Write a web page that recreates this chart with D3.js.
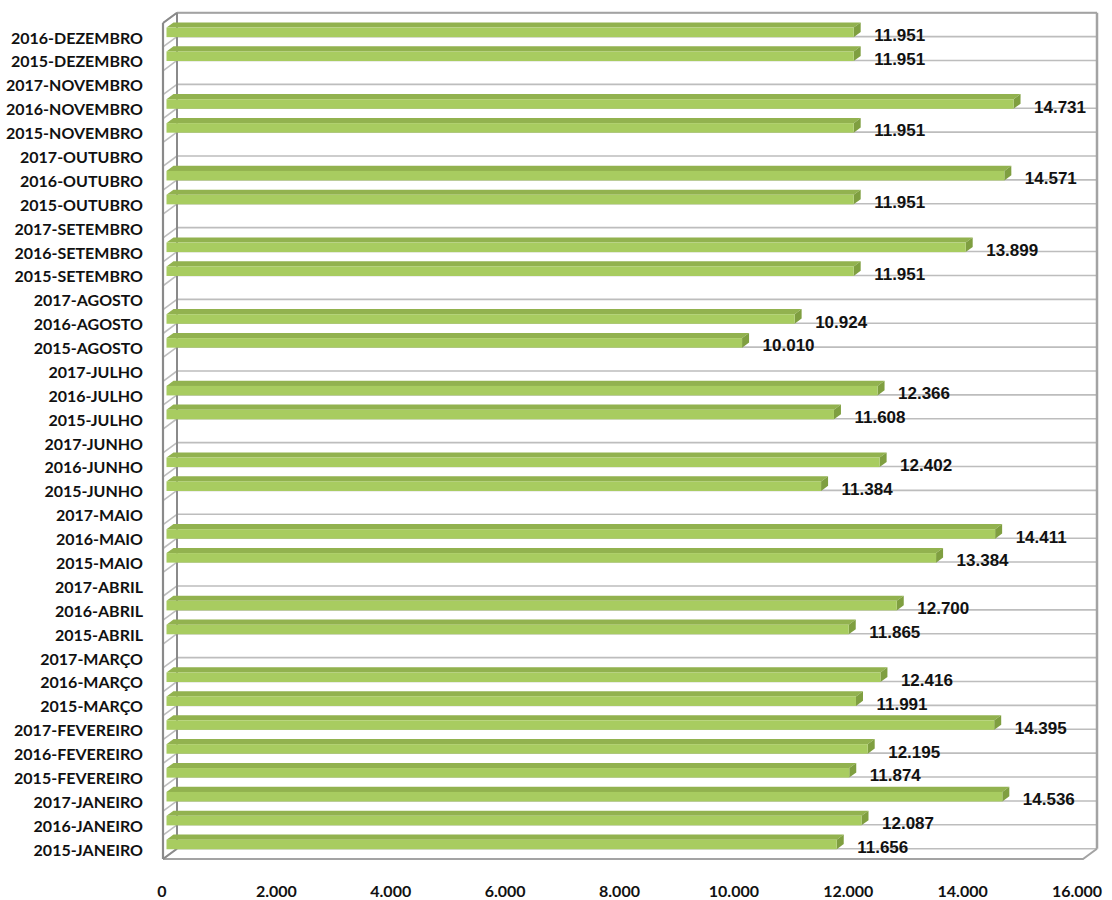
<!DOCTYPE html>
<html>
<head>
<meta charset="utf-8">
<script src="https://cdn.jsdelivr.net/npm/d3@7"></script>
<style>
  html, body { margin: 0; padding: 0; background: #ffffff; }
  svg { display: block; }
</style>
</head>
<body>
<svg id="chart" width="1112" height="900"></svg>
<script>
// ---- data (top to bottom as displayed) ----
const categories = [
  "2016-DEZEMBRO","2015-DEZEMBRO",
  "2017-NOVEMBRO","2016-NOVEMBRO","2015-NOVEMBRO",
  "2017-OUTUBRO","2016-OUTUBRO","2015-OUTUBRO",
  "2017-SETEMBRO","2016-SETEMBRO","2015-SETEMBRO",
  "2017-AGOSTO","2016-AGOSTO","2015-AGOSTO",
  "2017-JULHO","2016-JULHO","2015-JULHO",
  "2017-JUNHO","2016-JUNHO","2015-JUNHO",
  "2017-MAIO","2016-MAIO","2015-MAIO",
  "2017-ABRIL","2016-ABRIL","2015-ABRIL",
  "2017-MARÇO","2016-MARÇO","2015-MARÇO",
  "2017-FEVEREIRO","2016-FEVEREIRO","2015-FEVEREIRO",
  "2017-JANEIRO","2016-JANEIRO","2015-JANEIRO"
];
const values = [
  11951, 11951,
  null, 14731, 11951,
  null, 14571, 11951,
  null, 13899, 11951,
  null, 10924, 10010,
  null, 12366, 11608,
  null, 12402, 11384,
  null, 14411, 13384,
  null, 12700, 11865,
  null, 12416, 11991,
  14395, 12195, 11874,
  14536, 12087, 11656
];
const xTicks = [0, 2000, 4000, 6000, 8000, 10000, 12000, 14000, 16000];

// ---- layout ----
const svg = d3.select("#chart");
const DX = 14, DY = 10.3;           // 3D depth offset
const frontLeft = 163, frontRight = 1083, frontTop = 23, frontBottom = 859;

const x = d3.scaleLinear().domain([0, 16000]).range([frontLeft, frontRight]);
const xLab = d3.scaleLinear().domain([0, 16000]).range([162, 1077]);
const y = d3.scaleBand().domain(categories).range([frontTop, frontBottom]).padding(0);
const bw = y.bandwidth();

const loc = d3.formatLocale({decimal: ",", thousands: ".", grouping: [3], currency: ["R$", ""]});
const fmt = loc.format(",d");

const gridColor = "#BDBDBD";
const frameColor = "#A3A3A3";
const wallColor = "#8A8A8A";

// ---- back wall gridlines (category boundaries) ----
const boundaries = categories.map(c => y(c)).concat([frontBottom]);
const g = svg.append("g");
g.selectAll("line.grid").data(boundaries).enter().append("line")
  .attr("x1", frontLeft + DX).attr("x2", frontRight + DX)
  .attr("y1", d => d - DY).attr("y2", d => d - DY)
  .attr("stroke", gridColor).attr("stroke-width", 1.6);
// left wall diagonals
g.selectAll("line.diag").data(boundaries).enter().append("line")
  .attr("x1", frontLeft).attr("y1", d => d)
  .attr("x2", frontLeft + DX).attr("y2", d => d - DY)
  .attr("stroke", gridColor).attr("stroke-width", 1.6);

// back wall frame: top, right
g.append("line").attr("x1", frontLeft + DX).attr("x2", frontRight + DX)
  .attr("y1", frontTop - DY).attr("y2", frontTop - DY)
  .attr("stroke", frameColor).attr("stroke-width", 2);
g.append("line").attr("x1", frontRight + DX).attr("x2", frontRight + DX)
  .attr("y1", frontTop - DY).attr("y2", frontBottom - DY)
  .attr("stroke", frameColor).attr("stroke-width", 2.5);
// floor
g.append("path")
  .attr("d", `M${frontLeft},${frontBottom} L${frontRight},${frontBottom} L${frontRight + DX},${frontBottom - DY}`)
  .attr("fill", "none").attr("stroke", frameColor).attr("stroke-width", 2);
// left wall frame
g.append("line").attr("x1", frontLeft + DX).attr("x2", frontLeft + DX)
  .attr("y1", frontTop - DY).attr("y2", frontBottom - DY)
  .attr("stroke", wallColor).attr("stroke-width", 2);
g.append("line").attr("x1", frontLeft).attr("x2", frontLeft)
  .attr("y1", frontTop).attr("y2", frontBottom)
  .attr("stroke", wallColor).attr("stroke-width", 2.2);
g.append("line").attr("x1", frontLeft).attr("x2", frontLeft + DX)
  .attr("y1", frontTop).attr("y2", frontTop - DY)
  .attr("stroke", wallColor).attr("stroke-width", 2);
g.append("line").attr("x1", frontLeft).attr("x2", frontLeft + DX)
  .attr("y1", frontBottom).attr("y2", frontBottom - DY)
  .attr("stroke", wallColor).attr("stroke-width", 2);

// ---- bars ----
const data = categories.map((c, i) => ({cat: c, v: values[i]})).filter(d => d.v != null);
const thick = bw / 2.5;
const f = 0.25, b = 0.75;
const fx = f * DX, fy = f * DY, bx = b * DX, by = b * DY;

const bars = svg.append("g").selectAll("g.bar").data(data).enter().append("g");
bars.each(function(d) {
  const gg = d3.select(this);
  const c = y(d.cat) + bw / 2;
  const x0 = x(0), x1 = x(d.v);
  const top = c - thick / 2 - fy, bot = c + thick / 2 - fy;
  const ddx = bx - fx, ddy = by - fy;
  // top face
  gg.append("path")
    .attr("d", `M${x0 + fx},${top} L${x1 + fx},${top} L${x1 + fx + ddx},${top - ddy} L${x0 + fx + ddx},${top - ddy} Z`)
    .attr("fill", "#92B24F");
  // end face
  gg.append("path")
    .attr("d", `M${x1 + fx},${top} L${x1 + fx + ddx},${top - ddy} L${x1 + fx + ddx},${bot - ddy} L${x1 + fx},${bot} Z`)
    .attr("fill", "#7F9F40");
  // front face
  gg.append("rect")
    .attr("x", x0 + fx).attr("y", top)
    .attr("width", x1 - x0).attr("height", thick)
    .attr("fill", "#A8CC60");
});

// ---- value labels ----
svg.append("g").selectAll("text").data(data).enter().append("text")
  .attr("x", d => x(d.v) + 24)
  .attr("y", d => y(d.cat) + bw / 2 + 6)
  .attr("font-family", "'Liberation Sans', Arial, sans-serif")
  .attr("font-weight", "bold").attr("font-size", 17)
  .attr("fill", "#111")
  .text(d => fmt(d.v));

// ---- category labels ----
svg.append("g").selectAll("text").data(categories).enter().append("text")
  .attr("x", 143)
  .attr("y", d => y(d) + bw / 2 + 8.6)
  .attr("text-anchor", "end")
  .attr("font-family", "Lato, 'Open Sans', sans-serif")
  .attr("font-weight", "bold").attr("font-size", 16)
  .attr("fill", "#111")
  .text(d => d);

// ---- x tick labels ----
svg.append("g").selectAll("text").data(xTicks).enter().append("text")
  .attr("x", d => xLab(d))
  .attr("y", 897)
  .attr("text-anchor", "middle")
  .attr("font-family", "Lato, 'Open Sans', sans-serif")
  .attr("font-weight", "bold").attr("font-size", 16)
  .attr("fill", "#111")
  .text(d => fmt(d));
</script>
</body>
</html>
